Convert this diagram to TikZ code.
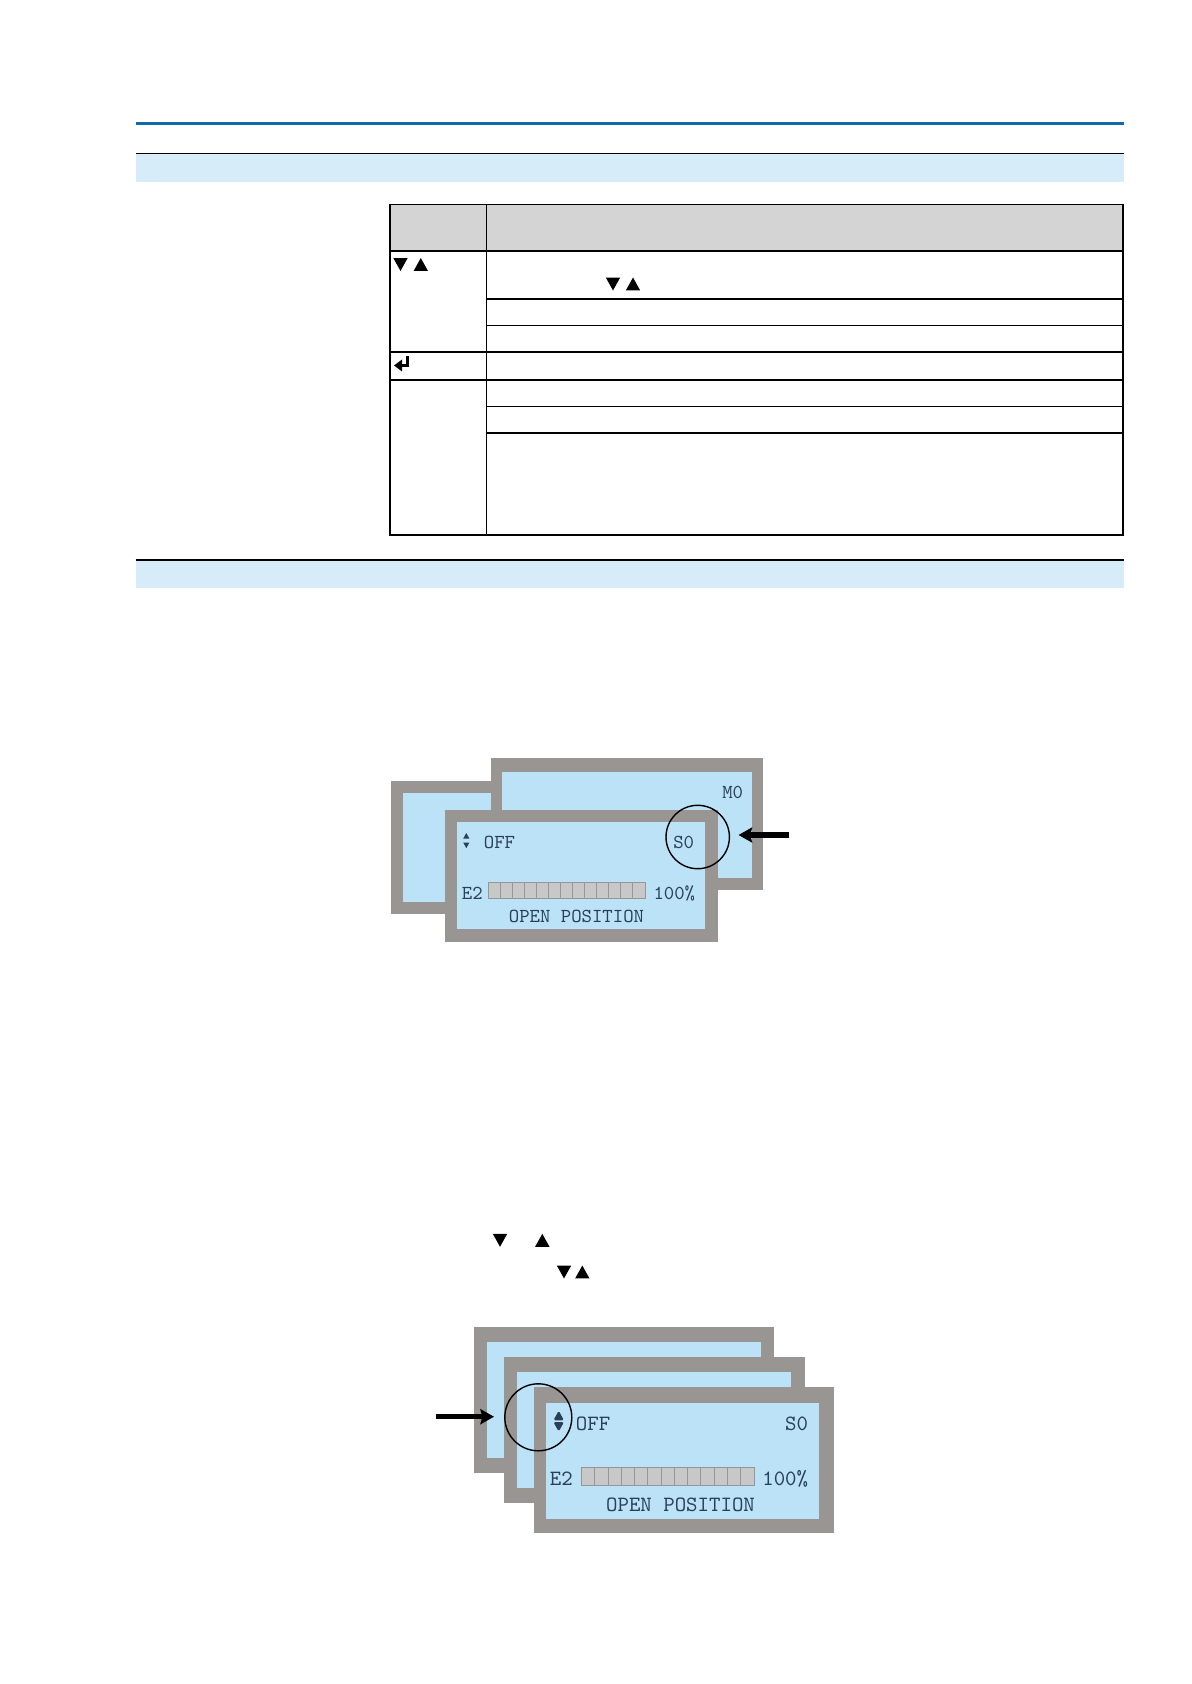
\documentclass[tikz,border=0pt]{standalone}
\usetikzlibrary{arrows.meta}
\definecolor{aumablue}{RGB}{16,106,170}
\definecolor{bandblue}{RGB}{214,236,249}
\definecolor{headgray}{RGB}{212,212,212}
\definecolor{framegray}{RGB}{152,149,146}
\definecolor{screenblue}{RGB}{187,226,247}
\definecolor{lcdtext}{RGB}{42,64,88}
\definecolor{cellfill}{RGB}{200,200,200}
\definecolor{cellline}{RGB}{150,150,150}
\newcommand\tdown[4]{\fill[#4] (#1-#3,#2-0.9*#3) -- (#1+#3,#2-0.9*#3) -- (#1,#2+0.9*#3) -- cycle;}
\newcommand\tup[4]{\fill[#4] (#1-#3,#2+0.9*#3) -- (#1+#3,#2+0.9*#3) -- (#1,#2-0.9*#3) -- cycle;}
\begin{document}
\begin{tikzpicture}[x=0.5pt,y=-0.5pt,
  tline/.style={line width=0.8pt},
  lcdA/.style={inner sep=0pt, text=lcdtext, font=\ttfamily\fontsize{9.9pt}{11pt}\selectfont},
  lcdB/.style={inner sep=0pt, text=lcdtext, font=\ttfamily\fontsize{10.9pt}{12pt}\selectfont},
  ring/.style={draw=black, line width=0.7pt, circle, inner sep=0pt},
  pointer/.style={line width=2.6pt, -{Stealth[length=6.8pt,width=7.5pt,inset=1pt]}},
  cell/.style={draw=cellline, line width=0.5pt},
]
\useasboundingbox (0,0) rectangle (1191,1684);
\fill[white] (0,0) rectangle (1191,1684);

% ---------- header rules and bands ----------
\draw[aumablue, line width=1.25pt] (135.5,123.5) -- (1123.5,123.5);
\fill[bandblue] (135.5,153.5) rectangle (1123.5,181.7);
\draw[black, line width=0.75pt] (135.5,153.5) -- (1123.5,153.5);
\fill[bandblue] (135.5,560) rectangle (1123.5,587.7);
\draw[black, line width=0.75pt] (135.5,560) -- (1123.5,560);

% ---------- table ----------
\fill[headgray] (390,204.7) rectangle (1123,251);
\draw[tline] (390,204.7) rectangle (1123,535);
\draw[tline] (486.5,204.7) -- (486.5,535);
\draw[tline] (390,251) -- (1123,251);
\draw[tline] (486.5,299) -- (1123,299);
\draw[tline] (486.5,325.7) -- (1123,325.7);
\draw[tline] (390,352.3) -- (1123,352.3);
\draw[tline] (390,380) -- (1123,380);
\draw[tline] (486.5,406.7) -- (1123,406.7);
\draw[tline] (486.5,433.3) -- (1123,433.3);

% table symbols
\tdown{400.5}{264.5}{7.2}{black}
\tup{420.8}{264.5}{7.2}{black}
\tdown{613}{284}{7.2}{black}
\tup{633}{284}{7.2}{black}
% return symbol
\draw[line width=1.6pt] (407.8,356.5) -- (407.8,365.5) -- (400,365.5);
\fill (394,365.5) -- (402,359.5) -- (402,371.5) -- cycle;

% ---------- figure 1 ----------
% back left screen
\fill[framegray] (391,781) rectangle (664,914);
\fill[screenblue] (402.7,792.7) rectangle (652,901.7);
% back right screen
\fill[framegray] (491,758.3) rectangle (763.3,890);
\fill[screenblue] (502.3,772) rectangle (751.7,878.3);
\node[lcdA, anchor=base east] (mzero) at (743.5,798.3) {M0};
% front screen
\fill[framegray] (445,810) rectangle (718,941.7);
\fill[screenblue] (456.7,822.3) rectangle (705,929.3);
\tup{466.3}{835.8}{3.1}{lcdtext}
\tdown{466.3}{845.3}{3.1}{lcdtext}
\node[lcdA, anchor=base west] (offA) at (483.5,848.5) {OFF};
\node[lcdA, anchor=base east] (szeroA) at (694.5,848.5) {S0};
\node[lcdA, anchor=base west] (etwoA) at (461.5,899) {E2};
\node[lcdA, anchor=base east] (pctA) at (695.5,899) {100\%};
\node[lcdA, anchor=base] (openA) at (576.5,922.7) {OPEN POSITION};
\draw[cell, fill=cellfill] (488.3,882.5) rectangle (645,898.5);
\foreach \i in {1,...,12} \draw[cell] ({488.3+\i*12.054},882.5) -- ++(0,16);
% marking
\node[ring, minimum size=31.7pt] (ringA) at (697.7,837) {};
\coordinate (arrAstart) at (789,835);
\coordinate (arrAend) at (738.5,835);
\draw[pointer] (arrAstart) -- (arrAend);

% ---------- text symbols above figure 2 ----------
\tdown{500}{1240.3}{7.2}{black}
\tup{542.3}{1240.3}{7.2}{black}
\tdown{564}{1272}{7.2}{black}
\tup{582.3}{1272}{7.2}{black}

% ---------- figure 2 ----------
\fill[framegray] (474,1327.3) rectangle (774.3,1473);
\fill[screenblue] (486.7,1342.3) rectangle (760.7,1457.7);
\fill[framegray] (504,1357.3) rectangle (805,1503.3);
\fill[screenblue] (516.7,1372.3) rectangle (791,1488);
\fill[framegray] (534.3,1387.3) rectangle (834,1532.7);
\fill[screenblue] (546,1402.7) rectangle (819,1519.3);
\tup{558.7}{1415.5}{5.3}{lcdtext, rounded corners=0.8pt}
\tdown{558.7}{1426.8}{5.3}{lcdtext, rounded corners=0.8pt}
\node[lcdB, anchor=base west] (offB) at (575.5,1430.7) {OFF};
\node[lcdB, anchor=base east] (szeroB) at (808.5,1430.7) {S0};
\node[lcdB, anchor=base west] (etwoB) at (549.5,1485) {E2};
\node[lcdB, anchor=base east] (pctB) at (808.5,1485) {100\%};
\node[lcdB, anchor=base] (openB) at (680.5,1511.7) {OPEN POSITION};
\draw[cell, fill=cellfill] (581.7,1467.3) rectangle (754,1485.5);
\foreach \i in {1,...,12} \draw[cell] ({581.7+\i*13.254},1467.3) -- ++(0,18.2);
\node[ring, minimum size=33.5pt] (ringB) at (538.3,1417.3) {};
\coordinate (arrBstart) at (436,1416.7);
\coordinate (arrBend) at (494,1416.7);
\draw[pointer] (arrBstart) -- (arrBend);
\end{tikzpicture}
\end{document}
